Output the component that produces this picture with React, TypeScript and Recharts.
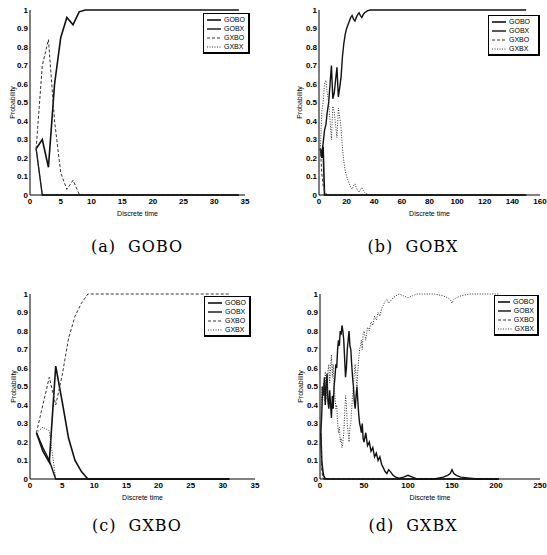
import React from 'react';
import { LineChart, Line, XAxis, YAxis, Legend, Label } from 'recharts';

// ---------- shared ----------
const SERIES_NAMES = ['GOBO', 'GOBX', 'GXBO', 'GXBX'];
const Y_TICKS = [0, 0.1, 0.2, 0.3, 0.4, 0.5, 0.6, 0.7, 0.8, 0.9, 1];
const X_TICKS_35 = [0, 5, 10, 15, 20, 25, 30, 35];
const X_TICKS_160 = [0, 20, 40, 60, 80, 100, 120, 140, 160];
const X_TICKS_250 = [0, 50, 100, 150, 200, 250];

// ---------- panel (a) GOBO ----------
const timeA = [1, 2, 3, 4, 5, 6, 7, 8, 9, 10, 15, 20, 25, 30, 34];
const goboA = [0.25, 0.3, 0.15, 0.6, 0.85, 0.96, 0.92, 0.99, 1, 1, 1, 1, 1, 1, 1];
const gobxA = [0.25, 0, 0, 0, 0, 0, 0, 0, 0, 0, 0, 0, 0, 0, 0];
const gxboA = [0.25, 0.7, 0.84, 0.4, 0.12, 0.03, 0.08, 0.005, 0, 0, 0, 0, 0, 0, 0];
const gxbxA = [0.25, 0, 0, 0, 0, 0, 0, 0, 0, 0, 0, 0, 0, 0, 0];

// ---------- panel (b) GOBX ----------
const timeB = [
  1, 2, 3, 4, 5, 6, 7, 8, 9, 10, 11, 12, 13, 14, 15, 16, 17, 18, 19, 20,
  21, 22, 23, 24, 25, 26, 27, 28, 29, 30, 31, 32, 33, 34, 35, 36, 37, 38, 39, 40,
  45, 50, 60, 80, 100, 120, 140, 150,
];
const goboB = [
  0.25, 0.2, 0.26, 0, 0, 0, 0, 0, 0, 0, 0, 0, 0, 0, 0, 0, 0, 0, 0, 0,
  0, 0, 0, 0, 0, 0, 0, 0, 0, 0, 0, 0, 0, 0, 0, 0, 0, 0, 0, 0,
  0, 0, 0, 0, 0, 0, 0, 0,
];
const gobxB = [
  0.25, 0.22, 0.28, 0.35, 0.38, 0.45, 0.5, 0.6, 0.7, 0.52,
  0.55, 0.62, 0.69, 0.53, 0.58, 0.64, 0.75, 0.82, 0.87, 0.9,
  0.92, 0.94, 0.96, 0.97, 0.95, 0.94, 0.96, 0.975, 0.985, 0.97,
  0.96, 0.975, 0.985, 0.99, 0.995, 0.998, 1, 1, 1, 1,
  1, 1, 1, 1, 1, 1, 1, 1,
];
const gxboB = [
  0.25, 0.12, 0.05, 0.02, 0.01, 0, 0, 0, 0, 0, 0, 0, 0, 0, 0, 0, 0, 0, 0, 0,
  0, 0, 0, 0, 0, 0, 0, 0, 0, 0, 0, 0, 0, 0, 0, 0, 0, 0, 0, 0,
  0, 0, 0, 0, 0, 0, 0, 0,
];
const gxbxB = [
  0.25, 0.45, 0.5, 0.6, 0.62, 0.55, 0.5, 0.4, 0.3, 0.48,
  0.45, 0.38, 0.31, 0.47, 0.42, 0.36, 0.25, 0.18, 0.13, 0.1,
  0.08, 0.06, 0.04, 0.03, 0.05, 0.06, 0.04, 0.025, 0.015, 0.03,
  0.04, 0.025, 0.015, 0.01, 0.005, 0.002, 0, 0, 0, 0,
  0, 0, 0, 0, 0, 0, 0, 0,
];

// ---------- panel (c) GXBO ----------
const timeC = [1, 2, 3, 4, 5, 6, 7, 8, 9, 10, 15, 20, 25, 31];
const goboC = [0.25, 0.15, 0.09, 0.61, 0.42, 0.22, 0.1, 0.04, 0, 0, 0, 0, 0, 0];
const gobxC = [0.25, 0.17, 0.1, 0, 0, 0, 0, 0, 0, 0, 0, 0, 0, 0];
const gxboC = [0.25, 0.4, 0.55, 0.4, 0.56, 0.76, 0.88, 0.95, 1, 1, 1, 1, 1, 1];
const gxbxC = [0.25, 0.28, 0.26, 0, 0, 0, 0, 0, 0, 0, 0, 0, 0, 0];

// ---------- panel (d) GXBX ----------
const timeD = [
  1, 2, 3, 4, 5, 6, 7, 8, 9, 10, 11, 12, 13, 14, 15, 16, 17, 18, 19, 20,
  21, 22, 23, 24, 25, 26, 27, 28, 29, 30, 31, 32, 33, 34, 35, 36, 37, 38, 39, 40,
  41, 42, 43, 44, 45, 46, 47, 48, 49, 50, 52, 54, 56, 58, 60, 62, 64, 66, 68, 70,
  72, 74, 76, 78, 80, 83, 86, 90, 95, 100, 105, 110, 120, 130, 140, 145, 148, 150, 152, 155,
  160, 170, 180, 190, 200, 203,
];
const goboD = [
  0.25, 0.1, 0.05, 0.02, 0.01, 0, 0, 0, 0, 0, 0, 0, 0, 0, 0, 0, 0, 0, 0, 0,
  0, 0, 0, 0, 0, 0, 0, 0, 0, 0, 0, 0, 0, 0, 0, 0, 0, 0, 0, 0,
  0, 0, 0, 0, 0, 0, 0, 0, 0, 0, 0, 0, 0, 0, 0, 0, 0, 0, 0, 0,
  0, 0, 0, 0, 0, 0, 0, 0, 0, 0, 0, 0, 0, 0, 0, 0, 0, 0, 0, 0,
  0, 0, 0, 0, 0, 0,
];
const gobxD = [
  0.25, 0.35, 0.5, 0.45, 0.55, 0.4, 0.5, 0.57, 0.42, 0.38,
  0.48, 0.4, 0.33, 0.45, 0.38, 0.5, 0.55, 0.62, 0.6, 0.7,
  0.75, 0.72, 0.8, 0.78, 0.83, 0.8, 0.75, 0.65, 0.55, 0.6,
  0.7, 0.75, 0.8, 0.72, 0.7, 0.62, 0.55, 0.5, 0.42, 0.38,
  0.45, 0.5, 0.42, 0.35, 0.3, 0.28, 0.25, 0.3, 0.22, 0.2,
  0.25, 0.18, 0.2, 0.15, 0.17, 0.12, 0.14, 0.1, 0.12, 0.08,
  0.06, 0.04, 0.03, 0.05, 0.04, 0.02, 0.01, 0.005, 0.01, 0.02,
  0.01, 0, 0, 0, 0.01, 0.02, 0.03, 0.05, 0.03, 0.02,
  0.01, 0.005, 0, 0, 0, 0,
];
const gxboD = [
  0.25, 0.05, 0.01, 0, 0, 0, 0, 0, 0, 0, 0, 0, 0, 0, 0, 0, 0, 0, 0, 0,
  0, 0, 0, 0, 0, 0, 0, 0, 0, 0, 0, 0, 0, 0, 0, 0, 0, 0, 0, 0,
  0, 0, 0, 0, 0, 0, 0, 0, 0, 0, 0, 0, 0, 0, 0, 0, 0, 0, 0, 0,
  0, 0, 0, 0, 0, 0, 0, 0, 0, 0, 0, 0, 0, 0, 0, 0, 0, 0, 0, 0,
  0, 0, 0, 0, 0, 0,
];
const gxbxD = [
  0.25, 0.5, 0.45, 0.52, 0.42, 0.58, 0.5, 0.43, 0.58, 0.62,
  0.52, 0.6, 0.67, 0.55, 0.62, 0.5, 0.45, 0.38, 0.4, 0.3,
  0.25, 0.28, 0.2, 0.22, 0.17, 0.2, 0.25, 0.35, 0.45, 0.4,
  0.3, 0.25, 0.2, 0.28, 0.3, 0.38, 0.45, 0.5, 0.58, 0.62,
  0.55, 0.5, 0.58, 0.65, 0.7, 0.72, 0.75, 0.7, 0.78, 0.8,
  0.75, 0.82, 0.8, 0.85, 0.83, 0.88, 0.86, 0.9, 0.88, 0.92,
  0.94, 0.96, 0.97, 0.95, 0.96, 0.98, 0.99, 1, 0.99, 0.98,
  0.99, 1, 1, 1, 0.99, 0.98, 0.97, 0.95, 0.97, 0.98,
  0.99, 1, 1, 1, 1, 1,
];

// ---------- styles ----------
const SANS = '"Liberation Sans", Arial, sans-serif';
const SERIF = '"DejaVu Serif", "Liberation Serif", serif';
const LINE_STYLE: Record<string, { w: number; dash?: string; color: string }> = {
  GOBO: { w: 1.6, color: '#111' },
  GOBX: { w: 1.4, color: '#111' },
  GXBO: { w: 1, dash: '3 2', color: '#333' },
  GXBX: { w: 1, dash: '1 1.5', color: '#333' },
};

function buildData(time: number[], series: number[][]) {
  return time.map((t, i) => {
    const row: any = { t };
    SERIES_NAMES.forEach((n, k) => {
      row[n] = series[k][i];
    });
    return row;
  });
}

const LegendBox = () => (
  <div
    style={{
      border: '1px solid #000',
      borderRightWidth: 2,
      borderBottomWidth: 2,
      background: '#fff',
      padding: '1px 3px 1px 3px',
      fontFamily: SANS,
      fontSize: 7,
      lineHeight: '9px',
      color: '#000',
      boxSizing: 'border-box',
    }}
  >
    {SERIES_NAMES.map((n) => {
      const s = LINE_STYLE[n];
      return (
        <div key={n} style={{ display: 'flex', alignItems: 'center', height: 9 }}>
          <svg width={14} height={6} style={{ display: 'block' }}>
            <line x1={0} y1={3} x2={14} y2={3} stroke={s.color} strokeWidth={s.w} strokeDasharray={s.dash} />
          </svg>
          <span style={{ marginLeft: 3 }}>{n}</span>
        </div>
      );
    })}
  </div>
);

type PanelProps = {
  left: number;
  top: number;
  width: number;
  height: number;
  marginTop: number;
  marginRight: number;
  yAxisWidth: number;
  yLabelX: number;
  xMax: number;
  xTicks: number[];
  time: number[];
  series: number[][];
  legend: { left: number; top: number; width: number };
};

const tickStyle = { fontSize: 8, fontWeight: 700, fill: '#000', fontFamily: SANS };

function Panel(p: PanelProps) {
  const data = buildData(p.time, p.series);
  return (
    <div style={{ position: 'absolute', left: p.left, top: p.top }}>
      <LineChart
        width={p.width}
        height={p.height}
        data={data}
        margin={{ top: p.marginTop, right: p.marginRight, bottom: 0, left: 0 }}
      >
        <XAxis
          dataKey="t"
          type="number"
          domain={[0, p.xMax]}
          ticks={p.xTicks}
          interval={0}
          tickLine={false}
          tickSize={2}
          tickMargin={1}
          tick={tickStyle}
          axisLine={{ stroke: '#000', strokeWidth: 1 }}
          height={27}
        >
          <Label value="Discrete time" position="insideBottom" offset={6} style={{ fontSize: 7, fontFamily: SANS, fill: '#000' }} />
        </XAxis>
        <YAxis
          type="number"
          domain={[0, 1]}
          ticks={Y_TICKS}
          interval={0}
          tickLine={false}
          tickSize={1}
          tickMargin={1}
          tick={tickStyle}
          tickFormatter={(v: number) => (v === 0 ? '0' : v === 1 ? '1' : v.toFixed(1))}
          axisLine={{ stroke: '#000', strokeWidth: 1 }}
          width={p.yAxisWidth}
        >
          <Label
            content={(lp: any) => {
              const vb = lp.viewBox || { x: 0, y: p.marginTop, height: p.height - p.marginTop - 27 };
              const x = vb.x + p.yLabelX;
              const y = vb.y + vb.height / 2;
              return (
                <text
                  x={x}
                  y={y}
                  transform={`rotate(-90 ${x} ${y})`}
                  textAnchor="middle"
                  dominantBaseline="central"
                  fontSize={7}
                  fontFamily={SANS}
                  fill="#000"
                >
                  Probability
                </text>
              );
            }}
          />
        </YAxis>
        <Legend
          layout="horizontal"
          verticalAlign="middle"
          align="center"
          content={() => <LegendBox />}
          wrapperStyle={{ left: p.legend.left, top: p.legend.top, width: p.legend.width }}
        />
        {SERIES_NAMES.map((n) => {
          const s = LINE_STYLE[n];
          return (
            <Line
              key={n}
              dataKey={n}
              type="linear"
              stroke={s.color}
              strokeWidth={s.w}
              strokeDasharray={s.dash}
              dot={false}
              activeDot={false}
              isAnimationActive={false}
            />
          );
        })}
      </LineChart>
    </div>
  );
}

const Caption = ({ text, cx, cy }: { text: string; cx: number; cy: number }) => (
  <div
    style={{
      position: 'absolute',
      left: cx - 80,
      top: cy - 11,
      width: 160,
      height: 22,
      lineHeight: '22px',
      textAlign: 'center',
      fontFamily: SERIF,
      fontSize: 16,
      letterSpacing: 1,
      wordSpacing: 6,
      color: '#000',
    }}
  >
    {text}
  </div>
);

export default function App() {
  return (
    <div style={{ position: 'absolute', left: 0, top: 0, width: 547, height: 555, background: '#fff', overflow: 'hidden' }}>
      <Panel
        left={0}
        top={0}
        width={270}
        height={222}
        marginTop={10}
        marginRight={25}
        yAxisWidth={30}
        yLabelX={12}
        xMax={35}
        xTicks={X_TICKS_35}
        time={timeA}
        series={[goboA, gobxA, gxboA, gxbxA]}
        legend={{ left: 203, top: 13, width: 47 }}
      />
      <Panel
        left={272}
        top={0}
        width={275}
        height={222}
        marginTop={10}
        marginRight={7}
        yAxisWidth={47}
        yLabelX={27}
        xMax={160}
        xTicks={X_TICKS_160}
        time={timeB}
        series={[goboB, gobxB, gxboB, gxbxB]}
        legend={{ left: 216, top: 15, width: 52 }}
      />
      <Panel
        left={0}
        top={270}
        width={270}
        height={236}
        marginTop={24}
        marginRight={15}
        yAxisWidth={30}
        yLabelX={13}
        xMax={35}
        xTicks={X_TICKS_35}
        time={timeC}
        series={[goboC, gobxC, gxboC, gxbxC]}
        legend={{ left: 204, top: 26, width: 47 }}
      />
      <Panel
        left={272}
        top={270}
        width={275}
        height={236}
        marginTop={24}
        marginRight={7}
        yAxisWidth={48}
        yLabelX={28}
        xMax={250}
        xTicks={X_TICKS_250}
        time={timeD}
        series={[goboD, gobxD, gxboD, gxbxD]}
        legend={{ left: 222, top: 25, width: 45 }}
      />
      <Caption text="(a) GOBO" cx={137} cy={247} />
      <Caption text="(b) GOBX" cx={413} cy={247} />
      <Caption text="(c) GXBO" cx={137} cy={526} />
      <Caption text="(d) GXBX" cx={413} cy={526} />
    </div>
  );
}
